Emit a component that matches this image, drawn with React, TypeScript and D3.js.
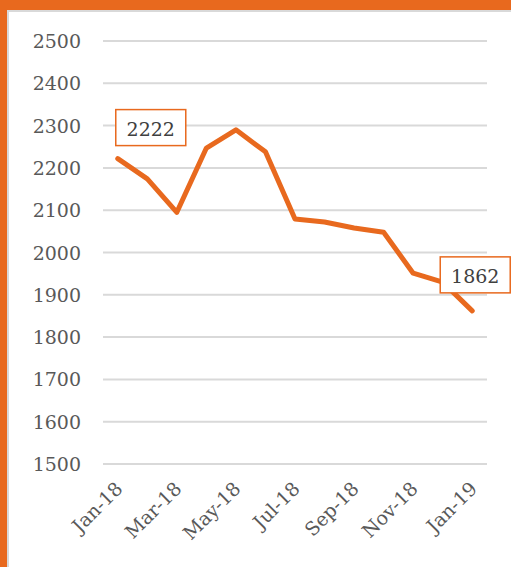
import * as d3 from "d3";
import { useEffect, useRef } from "react";

const months = [
  "Jan-18", "Feb-18", "Mar-18", "Apr-18", "May-18", "Jun-18", "Jul-18",
  "Aug-18", "Sep-18", "Oct-18", "Nov-18", "Dec-18", "Jan-19",
];
const values = [2222, 2174, 2095, 2247, 2290, 2238, 2079, 2072, 2058, 2048, 1951, 1930, 1862];
const yTicks = [1500, 1600, 1700, 1800, 1900, 2000, 2100, 2200, 2300, 2400, 2500];
const labelled = ["Jan-18", "Jan-19"];

const W = 511;
const H = 567;
const ORANGE = "#E8691E";
const FONT = "'DejaVu Serif', Georgia, serif";

const App = () => {
  const svgRef = useRef<SVGSVGElement>(null);

  useEffect(() => {
    const svg = d3.select(svgRef.current);
    svg.selectAll("*").remove();

    // frame: orange band top and left, white plot card
    svg.append("rect").attr("width", W).attr("height", H).attr("fill", ORANGE);
    svg.append("rect")
      .attr("x", 8).attr("y", 11)
      .attr("width", W).attr("height", H)
      .attr("fill", "#fff")
      .attr("stroke", "#d9d9d9").attr("stroke-width", 2);

    const x = d3.scaleBand().domain(months).range([103, 487]);
    const y = d3.scaleLinear().domain([1500, 2500]).range([464, 41]);
    const cx = (m: string) => (x(m) ?? 0) + x.bandwidth() / 2;

    svg.selectAll("line.grid")
      .data(yTicks)
      .enter()
      .append("line")
      .attr("x1", 103).attr("x2", 487)
      .attr("y1", (t) => y(t)).attr("y2", (t) => y(t))
      .attr("stroke", "#d9d9d9").attr("stroke-width", 2);

    svg.selectAll("text.ytick")
      .data(yTicks)
      .enter()
      .append("text")
      .attr("x", 81).attr("y", (t) => y(t))
      .attr("text-anchor", "end")
      .attr("dominant-baseline", "central")
      .attr("fill", "#595959")
      .style("font", `19px ${FONT}`)
      .text((t) => String(t));

    svg.selectAll("text.xtick")
      .data(months.filter((_, i) => i % 2 === 0))
      .enter()
      .append("text")
      .attr("transform", (m) => `translate(${cx(m) + 6},${490}) rotate(-45)`)
      .attr("text-anchor", "end")
      .attr("fill", "#595959")
      .style("font", `19px ${FONT}`)
      .text((m) => m);

    const line = d3
      .line<number>()
      .x((_, i) => cx(months[i]))
      .y((v) => y(v));
    svg.append("path")
      .datum(values)
      .attr("d", line)
      .attr("fill", "none")
      .attr("stroke", ORANGE)
      .attr("stroke-width", 5)
      .attr("stroke-linejoin", "round")
      .attr("stroke-linecap", "round");

    // data labels in boxes
    const offsets: Record<string, [number, number]> = {
      "Jan-18": [33, -31],
      "Jan-19": [3, -36],
    };
    labelled.forEach((m) => {
      const i = months.indexOf(m);
      const [dx, dy] = offsets[m];
      const px = cx(m) + dx;
      const py = y(values[i]) + dy;
      const bw = 70;
      const bh = 36;
      svg.append("rect")
        .attr("x", px - bw / 2).attr("y", py - bh / 2)
        .attr("width", bw).attr("height", bh)
        .attr("fill", "#fff")
        .attr("stroke", ORANGE).attr("stroke-width", 1.5);
      svg.append("text")
        .attr("x", px).attr("y", py + 1)
        .attr("text-anchor", "middle")
        .attr("dominant-baseline", "central")
        .attr("fill", "#404040")
        .style("font", `19px ${FONT}`)
        .text(String(values[i]));
    });
  }, []);

  return (
    <div style={{ position: "fixed", left: 0, top: 0 }}>
      <svg ref={svgRef} width={W} height={H} />
    </div>
  );
};

export default App;
